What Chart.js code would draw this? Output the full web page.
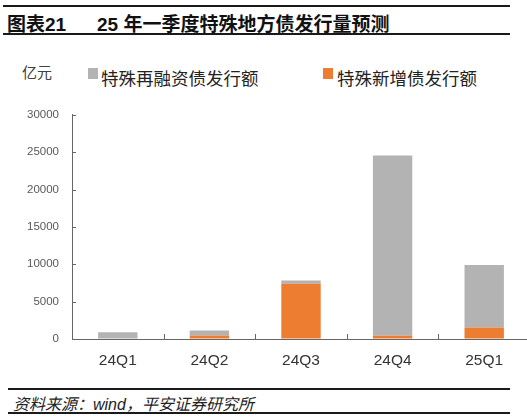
<!DOCTYPE html>
<html>
<head>
<meta charset="utf-8">
<script src="https://cdn.jsdelivr.net/npm/chart.js@4/dist/chart.umd.min.js"></script>
<style>
  html, body { margin: 0; padding: 0; background: #fff; }
  #wrap { position: relative; width: 527px; height: 419px; overflow: hidden; background: #fff; }
  .abs { position: absolute; white-space: nowrap; line-height: 1; }
  .line { position: absolute; background: #1a1a1a; }
  #c { position: absolute; left: 0; top: 95px; }
</style>
</head>
<body>
<div id="wrap">
  <div class="line" style="left:3px; top:5px; width:507px; height:2px;"></div>
  <div class="abs" style="left:7px; top:8.5px; font:bold 19px 'Liberation Sans','Noto Sans CJK SC',sans-serif; color:#111;">图表21</div>
  <div class="abs" style="left:97px; top:8.5px; font:bold 19px 'Liberation Sans','Noto Sans CJK SC',sans-serif; color:#111;">25 年一季度特殊地方债发行量预测</div>
  <div class="line" style="left:3px; top:33px; width:507px; height:2px;"></div>

  <div class="abs" style="left:22px; top:61px; font:15px 'Noto Sans CJK SC',sans-serif; color:#404040;">亿元</div>
  <div class="abs" style="left:88px; top:68px; width:10px; height:11px; background:#B3B3B3;"></div>
  <div id="lg1" class="abs" style="left:101px; top:65px; font:17.5px 'Noto Sans CJK SC',sans-serif; color:#222;"></div>
  <div class="abs" style="left:323px; top:68px; width:10px; height:11px; background:#ED7D31;"></div>
  <div id="lg2" class="abs" style="left:337px; top:65px; font:17.5px 'Noto Sans CJK SC',sans-serif; color:#222;"></div>

  <canvas id="c" width="540" height="285"></canvas>

  <div class="line" style="left:8px; top:388px; width:502px; height:2px;"></div>
  <div class="abs" style="left:13px; top:391px; font:italic 16px 'Liberation Sans','Noto Sans CJK SC',sans-serif; color:#222;">资料来源：wind，平安证券研究所</div>
  <div class="line" style="left:8px; top:412px; width:502px; height:2px;"></div>
</div>
<script>
// ---- data ----
const categories = ['24Q1', '24Q2', '24Q3', '24Q4', '25Q1'];
const refinanceSeriesName = '特殊再融资债发行额';
const newSeriesName = '特殊新增债发行额';
const refinanceValues = [900, 650, 430, 24130, 8370];
const newValues = [0, 480, 7400, 430, 1530];
const yTicks = [0, 5000, 10000, 15000, 20000, 25000, 30000];

document.getElementById('lg1').textContent = refinanceSeriesName;
document.getElementById('lg2').textContent = newSeriesName;

const axisColor = '#666666';

const tickPlugin = {
  id: 'innerTicks',
  afterDraw(chart) {
    const ctx = chart.ctx;
    const xs = chart.scales.x, ys = chart.scales.y;
    const area = chart.chartArea;
    ctx.save();
    ctx.strokeStyle = axisColor;
    ctx.lineWidth = 1;
    ctx.beginPath();
    yTicks.forEach(v => {
      const py = Math.round(ys.getPixelForValue(v)) + 0.5;
      ctx.moveTo(area.left, py);
      ctx.lineTo(area.left + 4, py);
    });
    for (let i = 0; i < categories.length - 1; i++) {
      const px = Math.round((xs.getPixelForValue(i) + xs.getPixelForValue(i + 1)) / 2) + 0.5;
      ctx.moveTo(px, area.bottom);
      ctx.lineTo(px, area.bottom - 5);
    }
    ctx.stroke();
    ctx.restore();
  }
};

new Chart(document.getElementById('c'), {
  type: 'bar',
  data: {
    labels: categories,
    datasets: [
      { label: newSeriesName, data: newValues, backgroundColor: '#ED7D31',
        categoryPercentage: 0.43, barPercentage: 1 },
      { label: refinanceSeriesName, data: refinanceValues, backgroundColor: '#B3B3B3',
        categoryPercentage: 0.43, barPercentage: 1 }
    ]
  },
  options: {
    responsive: false,
    animation: false,
    devicePixelRatio: 1,
    layout: { padding: { left: 0, right: 10, top: 14.5, bottom: 0 } },
    plugins: { legend: { display: false }, tooltip: { enabled: false } },
    scales: {
      x: {
        stacked: true,
        grid: { display: true, drawOnChartArea: false, drawTicks: false },
        border: { display: true, color: axisColor, width: 1 },
        ticks: { color: '#333', padding: 12, font: { family: "'Liberation Sans', Arial, sans-serif", size: 15.5 }, maxRotation: 0 },
        afterFit(s) { s.height = 41; }
      },
      y: {
        stacked: true,
        min: 0, max: 30000,
        afterBuildTicks(s) { s.ticks = yTicks.map(v => ({ value: v })); },
        grid: { display: true, drawOnChartArea: false, drawTicks: false },
        border: { display: true, color: axisColor, width: 1 },
        ticks: { color: '#595959', padding: 13, callback: v => String(v), font: { family: "'Liberation Sans', Arial, sans-serif", size: 11.5 } },
        afterFit(s) { s.width = 72; }
      }
    }
  },
  plugins: [tickPlugin]
});
</script>
</body>
</html>
